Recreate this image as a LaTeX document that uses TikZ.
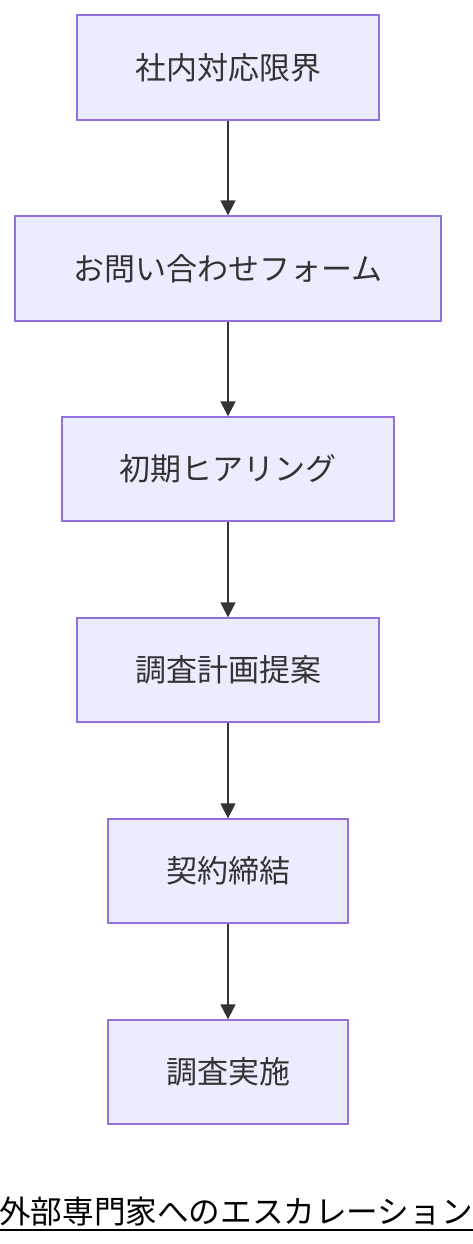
\documentclass[tikz,border=0pt]{standalone}
\usepackage{fontspec}
\newfontfamily\jp{Noto Sans CJK JP}
\usetikzlibrary{arrows.meta}
\definecolor{nodefill}{HTML}{ECECFF}
\definecolor{nodeline}{HTML}{9370DB}
\definecolor{edgecol}{HTML}{333333}
\tikzset{
  box/.style={draw=nodeline, fill=nodefill, line width=1.3pt, inner sep=0pt, anchor=center,
    font=\jp\fontsize{31}{36}\selectfont, text=edgecol},
  flow/.style={draw=edgecol, line width=1.5pt, -{Triangle[length=15pt,width=15pt]}}
}
\begin{document}
\begin{tikzpicture}[x=1pt,y=-1pt]
\useasboundingbox (0,0) rectangle (472,1244);
\node[box, minimum width=302pt, minimum height=105pt] (n1) at (228,67.5) {社内対応限界};
\node[box, minimum width=426pt, minimum height=105pt] (n2) at (228,268.5) {お問い合わせフォーム};
\node[box, minimum width=332pt, minimum height=104pt] (n3) at (228,469) {初期ヒアリング};
\node[box, minimum width=302pt, minimum height=104pt] (n4) at (228,670) {調査計画提案};
\node[box, minimum width=240pt, minimum height=104pt] (n5) at (228,871) {契約締結};
\node[box, minimum width=240pt, minimum height=104pt] (n6) at (228,1072) {調査実施};
\draw[flow] (n1) -- (n2);
\draw[flow] (n2) -- (n3);
\draw[flow] (n3) -- (n4);
\draw[flow] (n4) -- (n5);
\draw[flow] (n5) -- (n6);
\node[font=\jp\fontsize{31.6}{36}\selectfont, text=black, inner sep=0pt, anchor=base] (title) at (236,1223) {外部専門家へのエスカレーション};
\draw[line width=2pt, black] ([yshift=-7pt]title.base west) -- ([yshift=-7pt]title.base east);
\end{tikzpicture}
\end{document}
